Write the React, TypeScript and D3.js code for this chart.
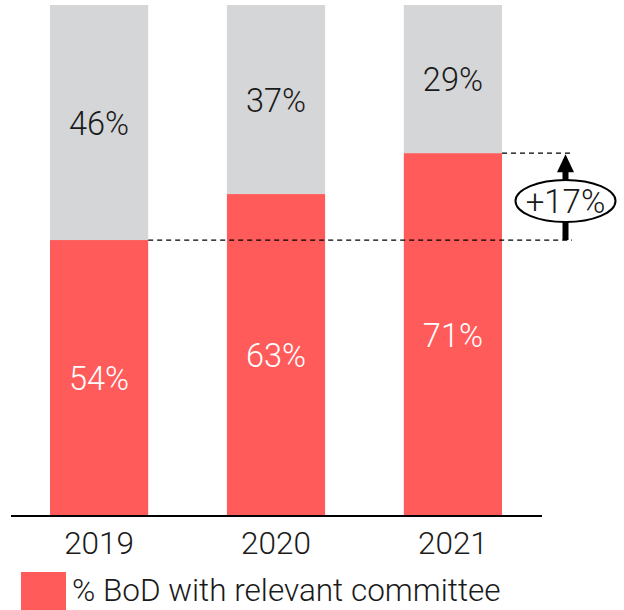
import React from "react";
import * as d3 from "d3";

const years = ["2019", "2020", "2021"];
const withCommittee = [54, 63, 71];
const withoutCommittee = [46, 37, 29];
const legendLabel = "% BoD with relevant committee";
const changeLabel = "+17%";

const W = 624;
const H = 610;
const RED = "#FF5B5B";
const GREY = "#D5D6D8";
const FONT = "Roboto, 'Liberation Sans', Arial, sans-serif";

export default function App() {
  const x = d3.scaleBand<string>().domain(years).range([50, 502]).paddingInner(0.445).paddingOuter(0);
  const y = d3.scaleLinear().domain([0, 100]).range([516, 5]);
  const bw = x.bandwidth();

  const firstTop = y(withCommittee[0]);
  const lastTop = y(withCommittee[withCommittee.length - 1]);
  const arrowX = 565.5;
  const ellipseCy = 201;
  const ellipseRy = 21;

  return (
    <svg width={W} height={H} style={{ position: "absolute", left: 0, top: 0 }} fontFamily={FONT}>
      {years.map((yr, i) => {
        const x0 = x(yr)!;
        const red = withCommittee[i];
        const grey = withoutCommittee[i];
        const redTop = y(red);
        const greyTop = y(red + grey);
        return (
          <g key={yr}>
            <rect x={x0} y={greyTop} width={bw} height={redTop - greyTop} fill={GREY} />
            <rect x={x0} y={redTop} width={bw} height={y(0) - redTop} fill={RED} />
            <text x={x0 + bw / 2} y={(greyTop + redTop) / 2 + 12} textAnchor="middle" fontSize={32.5} fontWeight={300} fill="#1a1a1a">
              {grey}%
            </text>
            <text x={x0 + bw / 2} y={(redTop + y(0)) / 2 + 12} textAnchor="middle" fontSize={32.5} fontWeight={300} fill="#ffffff">
              {red}%
            </text>
            <text x={x0 + bw / 2} y={554} textAnchor="middle" fontSize={31.5} fontWeight={300} fill="#1a1a1a">
              {yr}
            </text>
          </g>
        );
      })}

      <line x1={11} x2={542} y1={y(0)} y2={y(0)} stroke="#000" strokeWidth={2} />

      {/* change annotation */}
      <line x1={x(years[0])! + bw} x2={572} y1={firstTop} y2={firstTop} stroke="#000" strokeWidth={1.3} strokeDasharray="5 4" />
      <line x1={x(years[2])! + bw} x2={572} y1={lastTop} y2={lastTop} stroke="#000" strokeWidth={1.3} strokeDasharray="5 4" />
      <line x1={arrowX} x2={arrowX} y1={firstTop} y2={lastTop + 16} stroke="#000" strokeWidth={6} />
      <path d={`M${arrowX},${lastTop + 1} L${arrowX - 8.5},${lastTop + 19} L${arrowX + 8.5},${lastTop + 19} Z`} fill="#000" />
      <ellipse cx={arrowX} cy={ellipseCy} rx={50} ry={ellipseRy} fill="#fff" stroke="#000" strokeWidth={2} />
      <text x={arrowX} y={ellipseCy + 12} textAnchor="middle" fontSize={33} fontWeight={300} fill="#1a1a1a">
        {changeLabel}
      </text>

      {/* legend */}
      <rect x={21} y={572} width={45} height={38} fill={RED} />
      <text x={72} y={601} fontSize={31.5} fontWeight={300} fill="#1a1a1a">
        {legendLabel}
      </text>
    </svg>
  );
}
